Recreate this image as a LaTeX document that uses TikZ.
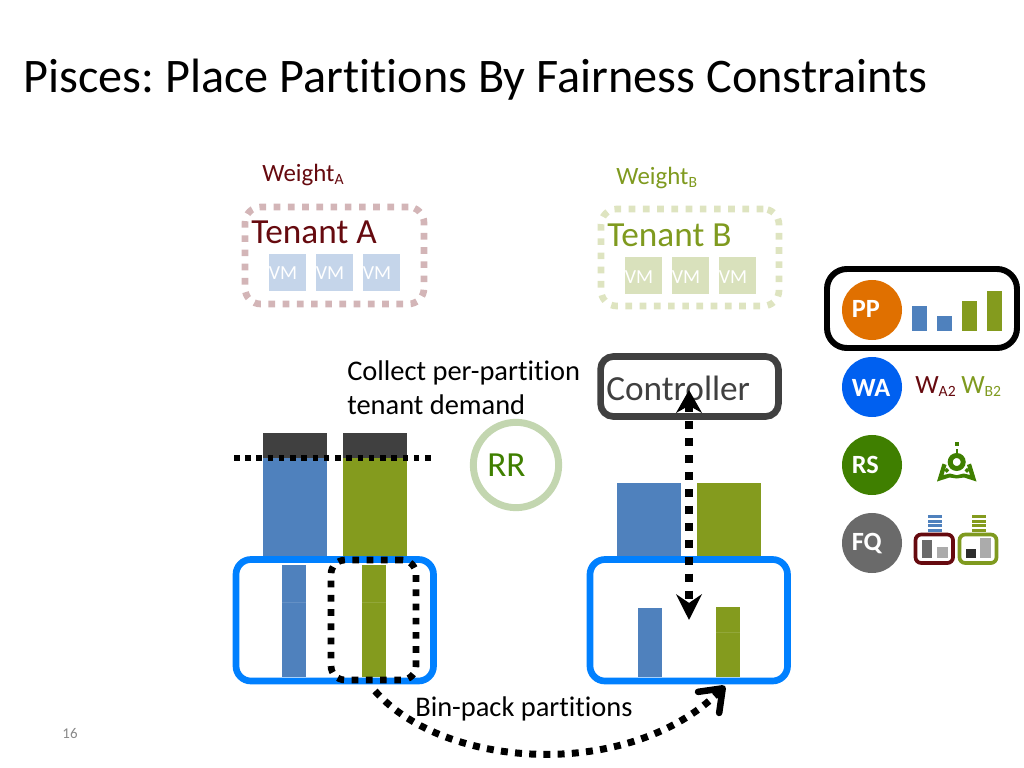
\documentclass[tikz,border=0pt]{standalone}
\usepackage{fontspec}
\setmainfont{Carlito}[Ligatures=NoCommon]
\usetikzlibrary{arrows.meta}
\definecolor{tenA}{HTML}{660A0F}
\definecolor{tenB}{HTML}{7F9A1F}
\definecolor{barblue}{HTML}{4F81BD}
\definecolor{bargreen}{HTML}{849B1E}
\definecolor{darkcap}{HTML}{404040}
\definecolor{srvblue}{HTML}{0080FF}
\definecolor{dashA}{HTML}{D3B5B7}
\definecolor{dashB}{HTML}{DEE4C0}
\definecolor{vmA}{HTML}{C5D5EA}
\definecolor{vmB}{HTML}{D9E1BC}
\definecolor{rrring}{HTML}{C3D6B0}
\definecolor{rsgreen}{HTML}{3F7F00}
\definecolor{pporange}{HTML}{E07000}
\definecolor{wablue}{HTML}{0060F0}
\definecolor{fqgrey}{HTML}{6A6A6A}
\tikzset{
  fillbox/.style={fill=#1,draw=none},
  dotline/.style={dash pattern=on 3.9pt off 4pt,line width=4pt},
  dotsq/.style={dash pattern=on 4.7pt off 5.3pt,line width=4.7pt},
  framebox/.style={draw=#1,line width=4.7pt,rounded corners=10.5pt,fill=white},
  badge/.style={circle,fill=#1,minimum size=42.2pt,inner sep=0pt},
  badgetext/.style={anchor=base west,inner sep=0pt,text=white,font=\fontsize{18.5}{18.5}\selectfont\bfseries},
  label20/.style={anchor=base west,inner sep=0pt,font=\fontsize{20}{20}\selectfont,align=left},
  label24/.style={anchor=base west,inner sep=0pt,font=\fontsize{24.8}{24.8}\selectfont},
  vmbox/.style={fill=#1,text=white,inner sep=0pt,font=\fontsize{14}{14}\selectfont},
  bigdash/.style={dash pattern=on 5.6pt off 6.3pt,line width=5.6pt},
  seam/.style={white,opacity=0.12,line width=0.7pt},
}
% optional, name-less helper: x1, y1, x2, y2, style, node name
\newcommand\bx[7][]{%
  \pgfmathsetlengthmacro\bxw{(#4-#2)*0.703125pt}%
  \pgfmathsetlengthmacro\bxh{(#5-#3)*0.703125pt}%
  \node[#6,shape=rectangle,minimum width=\bxw,minimum height=\bxh,inner sep=0pt,outer sep=0pt,anchor=north west,#1] (#7) at (#2,#3) {};%
}
\newcommand\subs[1]{\raisebox{-0.12em}{\fontsize{11}{11}\selectfont #1}}
\begin{document}
\frenchspacing
\begin{tikzpicture}[x=0.703125pt,y=-0.703125pt]
\useasboundingbox (0,0) rectangle (1024,768);
% title
\node[anchor=base west,inner sep=0pt,font=\fontsize{33.9}{33.9}\selectfont] (title) at (23,93) {Pisces: Place Partitions By Fairness Constraints};
% tenant labels
\node[anchor=base west,inner sep=0pt,text=tenA,font=\fontsize{17.5}{17.5}\selectfont] (wa) at (262,182) {Weight\subs{A}};
\node[anchor=base west,inner sep=0pt,text=tenB,font=\fontsize{17.5}{17.5}\selectfont] (wb) at (616,185) {Weight\subs{B}};
% tenant A
\bx{245}{207}{424}{304}{draw=dashA,dotsq,rounded corners=11pt}{tA}
\node[label24,text=tenA] (tAt) at (251,244) {Tenant A};
\foreach \i/\x in {1/269,2/316,3/363}{
  \node[vmbox=vmA,minimum width=26pt,minimum height=26pt,anchor=north west] (vma\i) at (\x,254) {};
  \node[anchor=base,inner sep=0pt,text=white,font=\fontsize{14}{14}\selectfont] (vmat\i) at (\x+14,280) {VM};
}
% tenant B
\bx{601}{209}{779}{306}{draw=dashB,dotsq,rounded corners=11pt}{tB}
\node[label24,text=tenB] (tBt) at (607,247) {Tenant B};
\foreach \i/\x in {1/625,2/672,3/719}{
  \node[vmbox=vmB,minimum width=26pt,minimum height=26pt,anchor=north west] (vmb\i) at (\x,257) {};
  \node[anchor=base,inner sep=0pt,text=white,font=\fontsize{14}{14}\selectfont] (vmbt\i) at (\x+14,283) {VM};
}
% left side bars
\bx{263}{433}{327}{458}{fillbox=darkcap}{capa}
\bx{343}{433}{407}{458}{fillbox=darkcap}{capb}
\bx{263}{458}{327}{560}{fillbox=barblue}{la}
\bx{343}{458}{407}{560}{fillbox=bargreen}{lb}
\coordinate (limL) at (234,458);
\coordinate (limR) at (431,458);
\draw[dotline] (limL) -- (limR);
% left server
\bx{236}{559.5}{433.5}{681}{framebox=srvblue}{srvL}
\bx{282}{565}{306}{677}{fillbox=barblue}{srvLa}
\bx{362}{565}{386}{677}{fillbox=bargreen}{srvLb}
\draw[seam] (282,602) -- (306,602);
\draw[seam] (362,602) -- (386,602);
\bx{331}{560}{416}{680}{draw=black,dotsq,rounded corners=10pt}{sel}
% right side
\bx{617}{483}{681}{560}{fillbox=barblue}{ra}
\bx{697}{483}{761}{560}{fillbox=bargreen}{rb}
\bx{590}{559.5}{787.5}{681}{framebox=srvblue}{srvR}
\bx{638}{608}{662}{677}{fillbox=barblue}{srvRa}
\bx{716}{607}{740}{677}{fillbox=bargreen}{srvRb}
\draw[seam] (716,632) -- (740,632);
% controller
\bx{600.6}{356.5}{778.4}{416.5}{framebox=darkcap,rounded corners=9pt}{ctrl}
\node[label24,text=darkcap] (ctrlt) at (606,400) {Controller};
\coordinate (ctrlp) at (689,390);
\coordinate (srvp) at (689,620);
\draw[bigdash,{Stealth[length=16pt,width=18pt,inset=5pt]}-{Stealth[length=18pt,width=18pt,inset=6pt]}] (ctrlp) -- (srvp);
% texts
\node[label20] (coll) at (347,380) {Collect per-partition};
\node[label20] (coll2) at (347,414) {tenant demand};
\node[circle,draw=rrring,line width=4.9pt,minimum size=60pt,inner sep=0pt] (rr) at (516,465) {};
\node[label24,text=rsgreen] (rrt) at (487,476) {RR};
\node[label20] (bp) at (415,716) {Bin-pack partitions};
\node[anchor=base,inner sep=0pt,text=fqgrey!80,font=\fontsize{10.5}{10.5}\selectfont] (pg) at (70,738) {16};
% curved arrow
\coordinate (curS) at (375,691);
\coordinate (curE) at (725,686);
\draw[dash pattern=on 4.9pt off 5.1pt,line width=4.9pt,-{Straight Barb[length=14pt,width=21pt,line width=4.6pt,round]}]
  (curS) .. controls (445,770) and (630,781) .. (curE);
% legend
\bx{827}{269}{1017}{348}{draw=black,line width=4.2pt,rounded corners=14pt}{panel}
\node[badge=pporange] (pp) at (872,310) {};
\node[badge=wablue] (wab) at (872,387) {};
\node[badge=rsgreen] (rs) at (872,465) {};
\node[badge=fqgrey] (fq) at (872,543) {};
\node[badgetext] (ppt) at (851.5,317) {PP};
\node[badgetext] (wat) at (851.5,396) {WA};
\node[badgetext] (rst) at (851.5,473) {RS};
\node[badgetext] (fqt) at (851.5,550) {FQ};
\bx{912}{306}{927}{331}{fillbox=barblue}{p1}
\bx{937}{316}{952}{331}{fillbox=barblue}{p2}
\bx{962}{301}{977}{331}{fillbox=bargreen}{p3}
\bx{987}{291}{1002}{331}{fillbox=bargreen}{p4}
\node[anchor=base west,inner sep=0pt,text=tenA,font=\fontsize{18.5}{18.5}\selectfont] (wa2) at (915,393) {W\subs{A2}};
\node[anchor=base west,inner sep=0pt,text=tenB,font=\fontsize{18.5}{18.5}\selectfont] (wb2) at (961,393) {W\subs{B2}};
% RS icon
\fill[rsgreen] (955,441.7) rectangle (958.7,446);
\fill[rsgreen] (955.7,449) rectangle (957.7,455);
\draw[rsgreen,line width=3.5pt] (956.7,462) circle (6.5);
\fill[rsgreen] (937,481.5) -- (942.5,463.5) -- (946.5,465) -- (943.5,475) -- (950,473.5) -- (956.7,475.2) -- (963.5,473.5) -- (970,475) -- (967,465) -- (971,463.5) -- (976.5,481.5) -- (964,477.5) -- (956.7,478.5) -- (949.5,477.5) -- cycle;
\fill[rsgreen] (946.7,467.8) -- (949.2,470.3) -- (946.7,472.8) -- (944.2,470.3) -- cycle;
\fill[rsgreen] (967,467.8) -- (969.5,470.3) -- (967,472.8) -- (964.5,470.3) -- cycle;
% FQ icon
\bx{915.5}{534.5}{953}{563}{draw=tenA,fill=white,line width=2.6pt,rounded corners=4pt}{fqA}
\bx{921.7}{539.5}{932}{558}{fillbox=fqgrey}{fqA1}
\bx{936.7}{547}{947.7}{558}{fillbox=black!33}{fqA2}
\bx{959.5}{534.5}{996.5}{563}{draw=tenB,fill=white,line width=2.6pt,rounded corners=4pt}{fqB}
\bx{966}{549}{976}{558}{fillbox=darkcap!70!black}{fqB1}
\bx{980.3}{537.7}{991.3}{558}{fillbox=black!33}{fqB2}
\foreach \y in {515,519.5,524,528.5}{
  \fill[barblue] (927.7,\y) rectangle +(14,3.4);
  \fill[bargreen] (971.7,\y) rectangle +(14,3.4);
}
\end{tikzpicture}
\end{document}
